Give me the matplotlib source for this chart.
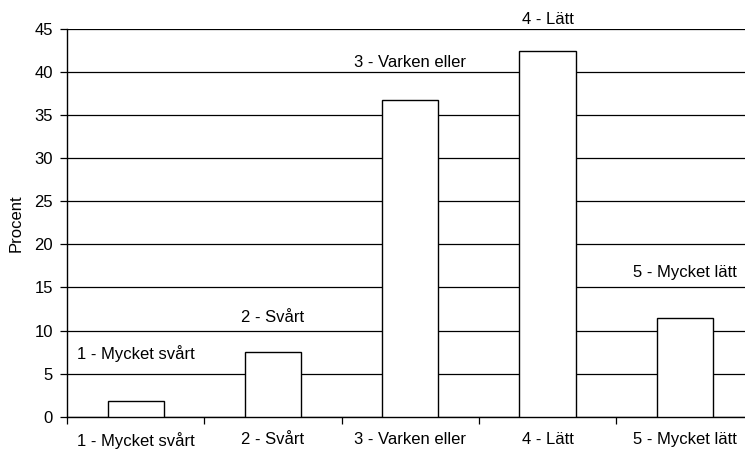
import matplotlib
matplotlib.use("Agg")
import matplotlib.pyplot as plt
import numpy as np

plt.rcParams['font.family'] = ['Liberation Sans', 'DejaVu Sans']

categories = ["1 - Mycket svårt", "2 - Svårt", "3 - Varken eller", "4 - Lätt", "5 - Mycket lätt"]
percent = [1.8, 7.5, 36.8, 42.5, 11.4]
y_ticks = [0, 5, 10, 15, 20, 25, 30, 35, 40, 45]

# vertical offset (points) of each bar's caption above the bar top
label_offsets = [34, 25, 27, 22, 33]
FS = 12

fig = plt.figure(figsize=(7.45, 4.51), dpi=100)
ax = fig.add_axes([67 / 745, 34.3 / 451, (753.5 - 67) / 745, 387.7 / 451])

x = np.arange(len(categories))
ax.set_axisbelow(True)
ax.yaxis.grid(True, color='black', linewidth=0.9)
ax.bar(x, percent, width=0.41, color='white', edgecolor='black', linewidth=1.0, zorder=3)

for xi, v, lab, off in zip(x, percent, categories, label_offsets):
    ax.annotate(lab, (xi, v), xytext=(0, off), textcoords='offset points',
                ha='center', va='center', fontsize=FS, color='black')

ax.set_xlim(-0.5, len(categories) - 0.5)
ax.set_ylim(0, 45)
ax.set_yticks(y_ticks)
ax.set_xticks(np.arange(len(categories) + 1) - 0.5)
ax.set_xticklabels([])
ax.set_xticks(x, minor=True)
ax.set_xticklabels(categories, minor=True, fontsize=FS)
ax.tick_params(axis='x', which='minor', length=0, pad=11)
ax.tick_params(axis='x', which='major', direction='out', length=5, width=0.9)
ax.tick_params(axis='y', direction='out', length=5, width=0.9, labelsize=FS, pad=5)
ax.set_ylabel("Procent", fontsize=FS, labelpad=8)

for s in ['top', 'right']:
    ax.spines[s].set_visible(False)
for s in ['left', 'bottom']:
    ax.spines[s].set_linewidth(1.0)
    ax.spines[s].set_color('black')

fig.savefig("out.png", dpi=100)
